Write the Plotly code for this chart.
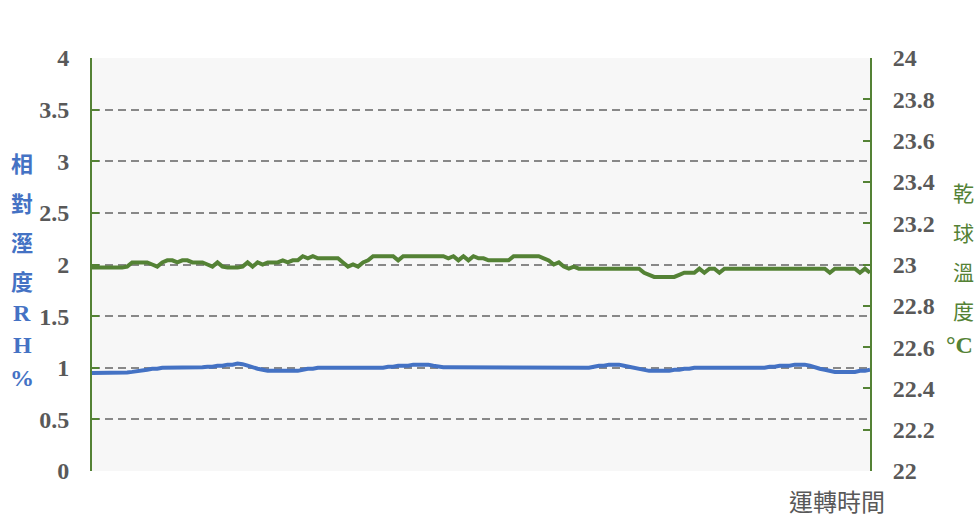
import plotly.graph_objects as go

# ---- data ----
rh_values = (
    [0.95] * 7 + [0.955, 0.96, 0.965, 0.97, 0.98, 0.99, 0.99, 1.0] + [1.0] * 7 +
    [1.005, 1.01, 1.01, 1.02, 1.02, 1.03, 1.03, 1.04, 1.035, 1.02, 1.0, 0.99, 0.98, 0.97] +
    [0.97] * 6 + [0.98, 0.99, 0.99, 1.0] + [1.0] * 13 +
    [1.01, 1.01, 1.02, 1.02, 1.02, 1.03, 1.03, 1.03, 1.03, 1.02, 1.01] +
    [1.005] * 8 + [1.0] * 22 +
    [1.01, 1.02, 1.02, 1.03, 1.03, 1.03, 1.02, 1.01, 1.0, 0.99, 0.98, 0.97] +
    [0.97] * 4 + [0.98, 0.98, 0.99, 0.99, 1.0] + [1.0] * 14 +
    [1.01, 1.01, 1.02, 1.02, 1.02, 1.03, 1.03, 1.03, 1.02, 1.0, 0.99, 0.98, 0.97, 0.96] +
    [0.96] * 4 + [0.97, 0.97, 0.98]
)

temp_values = (
    [22.985] * 7 + [22.99, 23.01, 23.01, 23.01, 23.01, 23.0, 22.99,
                    23.01, 23.02, 23.02, 23.01, 23.02, 23.02, 23.01, 23.01, 23.01, 23.0,
                    22.99, 23.01, 22.99, 22.985, 22.985, 22.985, 22.99, 23.01, 22.99, 23.01,
                    23.0, 23.01, 23.01, 23.01, 23.02, 23.01, 23.02, 23.02, 23.04, 23.03,
                    23.04, 23.03, 23.03, 23.03, 23.03, 23.03, 23.01, 22.99, 23.0, 22.99,
                    23.01, 23.02, 23.04, 23.04, 23.04, 23.04, 23.04, 23.02] +
    [23.04] * 9 + [23.03, 23.04, 23.02, 23.04, 23.02, 23.04, 23.03, 23.03,
                   23.02, 23.02, 23.02, 23.02, 23.02] +
    [23.04] * 6 + [23.03, 23.02, 23.0, 23.01, 22.99, 22.98, 22.99] +
    [22.98] * 13 + [22.96, 22.95] + [22.94] * 5 +
    [22.95, 22.96, 22.96, 22.96, 22.98, 22.96, 22.98, 22.98, 22.96, 22.98] +
    [22.98] * 20 + [22.96, 22.98, 22.98, 22.98, 22.98, 22.98, 22.96, 22.98, 22.96]
)

time_index = list(range(len(temp_values)))
rh_index = list(range(len(rh_values)))

left_ticks = [0, 0.5, 1, 1.5, 2, 2.5, 3, 3.5, 4]
left_ticktext = ["0", "0.5", "1", "1.5", "2", "2.5", "3", "3.5", "4"]
right_ticks = [22, 22.2, 22.4, 22.6, 22.8, 23, 23.2, 23.4, 23.6, 23.8, 24]
right_ticktext = ["22", "22.2", "22.4", "22.6", "22.8", "23", "23.2", "23.4", "23.6", "23.8", "24"]

left_title_chars = ["相", "對", "溼", "度", "R", "H", "%"]
right_title_chars = ["乾", "球", "溫", "度", "°C"]
x_title = "運轉時間"

BLUE = "#4472C4"
GREEN = "#548235"
GRAY = "#595959"

fig = go.Figure()
fig.add_trace(go.Scatter(x=rh_index, y=rh_values, mode="lines",
                         line=dict(color=BLUE, width=4), name="RH", yaxis="y"))
fig.add_trace(go.Scatter(x=time_index, y=temp_values, mode="lines",
                         line=dict(color=GREEN, width=4), name="T", yaxis="y2"))

W, H = 975, 531
L, R, T, B = 92, 105, 58, 60
pw, ph = W - L - R, H - T - B

tickfont = dict(family="Liberation Serif", size=24, color=GRAY, weight="bold")

fig.update_layout(
    width=W, height=H,
    margin=dict(l=L, r=R, t=T, b=B),
    paper_bgcolor="white",
    plot_bgcolor="#f7f7f7",
    showlegend=False,
    xaxis=dict(range=[0, len(temp_values) - 1], showticklabels=False, showgrid=False,
               zeroline=False, ticks="", showline=False),
    yaxis=dict(range=[0, 4], tickvals=left_ticks, ticktext=left_ticktext,
               tickfont=tickfont, showgrid=True, gridcolor="#888888", griddash="8px,5px",
               gridwidth=1.5, zeroline=False, showline=True, linecolor=GREEN, linewidth=2,
               ticks="inside", ticklen=7, tickcolor=GREEN, tickwidth=2,
               ticklabelstandoff=16),
    yaxis2=dict(range=[22, 24], tickvals=right_ticks, ticktext=right_ticktext,
                tickfont=tickfont, overlaying="y", side="right", showgrid=False,
                zeroline=False, showline=True, linecolor=GREEN, linewidth=2,
                ticks="inside", ticklen=7, tickcolor=GREEN, tickwidth=2,
                ticklabelstandoff=16),
)

def px2paper(px, py):
    return (px - L) / pw, (H - B - py) / ph

annotations = []
left_ys = [162, 202, 241, 280, 313, 345, 378]
for ch, py in zip(left_title_chars, left_ys):
    xx, yy = px2paper(22, py)
    latin = ch in ("R", "H", "%")
    annotations.append(dict(
        text=f"<b>{ch}</b>", x=xx, y=yy, xref="paper", yref="paper",
        showarrow=False, xanchor="center", yanchor="middle",
        font=dict(family="Liberation Serif" if latin else "Noto Sans CJK TC",
                  size=24 if latin else 22, color=BLUE)))

right_ys = [192, 232, 271, 310, 345]
for ch, py in zip(right_title_chars, right_ys):
    xx, yy = px2paper(963 if ch != "°C" else 960, py)
    latin = ch == "°C"
    annotations.append(dict(
        text=f"<b>{ch}</b>" if latin else ch, x=xx, y=yy, xref="paper", yref="paper",
        showarrow=False, xanchor="center", yanchor="middle",
        font=dict(family="Liberation Serif" if latin else "Noto Sans CJK TC",
                  size=24 if latin else 21, color=GREEN)))

xx, yy = px2paper(837, 500)
annotations.append(dict(text=x_title, x=xx, y=yy, xref="paper", yref="paper",
                        showarrow=False, xanchor="center", yanchor="middle",
                        font=dict(family="Noto Sans CJK TC", size=24, color=GRAY)))

fig.update_layout(annotations=annotations)
fig.write_html("out.html", config={"displayModeBar": False},
               post_script="document.body.style.margin='0';document.body.style.overflow='hidden';")
